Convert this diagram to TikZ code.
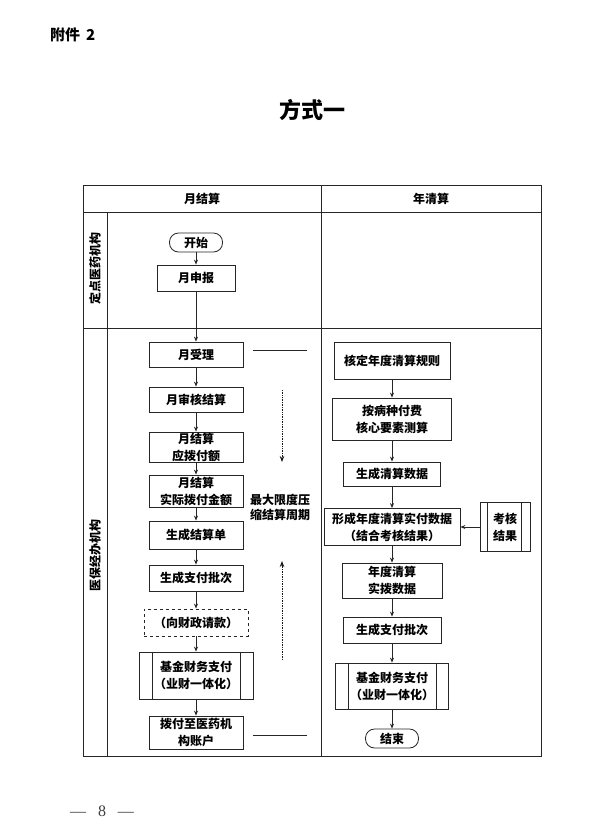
\documentclass[tikz,border=0pt]{standalone}
\usepackage{fontspec}
\setmainfont{Noto Sans CJK SC}
\newfontfamily\pgserif{Liberation Serif}
\usetikzlibrary{arrows.meta}
\begin{document}
\begin{tikzpicture}[x=1pt,y=-1pt,
  ln/.style={draw=black!85,line width=0.8pt},
  txt/.style={font=\bfseries\fontsize{12}{17}\selectfont,align=center,inner sep=0pt},
  box/.style={ln,txt,fill=white,minimum width=94pt},
  term/.style={box,rounded corners=9pt,minimum width=53pt,minimum height=19pt},
  arr/.style={ln,-{Stealth[length=5pt,width=4pt]}},
  dotarr/.style={draw=black!90,line width=0.8pt,dash pattern=on 1pt off 0.7pt,-{Stealth[length=6pt,width=4.5pt]}},
]
\useasboundingbox (0,0) rectangle (593,828);
\fill[white] (0,0) rectangle (593,828);

% page header
\node[anchor=west,font=\bfseries\fontsize{15}{15}\selectfont,inner sep=0pt] (att) at (50,35) {附件\hspace{6pt}2};
\node[font=\bfseries\fontsize{22}{22}\selectfont,inner sep=0pt] (title) at (312,110) {方式一};

% table
\draw[ln] (83,185) rectangle (541,756);
\draw[ln] (83,212) -- (541,212);
\draw[ln] (83,328) -- (541,328);
\draw[ln] (321,185) -- (321,756);
\draw[ln] (107,212) -- (107,756);
\node[txt] (h1) at (202,199) {月结算};
\node[txt] (h2) at (431,199) {年清算};
\node[txt,rotate=90] (lane1) at (95,268) {定点医药机构};
\node[txt,rotate=90] (lane2) at (95,555) {医保经办机构};

% left column
\node[term] (start) at (196,242.5) {开始};
\node[box,minimum width=78pt,minimum height=26pt] (sb) at (196,278) {月申报};
\node[box,minimum height=25pt] (sl) at (196,354.5) {月受理};
\node[box,minimum height=25pt] (sh) at (196,399.5) {月审核结算};
\node[box,minimum height=30pt] (yb) at (196,447) {月结算\\应拨付额};
\node[box,minimum height=32pt] (sj) at (196,491) {月结算\\实际拨付金额};
\node[box,minimum height=28pt] (jsd) at (196,535) {生成结算单};
\node[box,minimum height=26pt] (pc1) at (196,578) {生成支付批次};
\node[box,dashed,minimum width=104pt,minimum height=27pt] (qk) at (196,622.5) {（向财政请款）};
\node[box,minimum width=114pt,minimum height=47pt] (zf1) at (196,675.5) {基金财务支付\\（业财一体化）};
\draw[ln] ([xshift=14pt]zf1.north west) -- ([xshift=14pt]zf1.south west);
\draw[ln] ([xshift=-13pt]zf1.north east) -- ([xshift=-13pt]zf1.south east);
\node[box,minimum height=33pt] (bf) at (196,732.5) {拨付至医药机\\构账户};

\draw[arr] (start) -- (sb);
\draw[arr] (sb) -- (sl);
\draw[arr] (sl) -- (sh);
\draw[arr] (sh) -- (yb);
\draw[arr] (yb) -- (sj);
\draw[arr] (sj) -- (jsd);
\draw[arr] (jsd) -- (pc1);
\draw[arr] (pc1) -- (qk);
\draw[arr] (qk) -- (zf1);
\draw[arr] (zf1) -- (bf);

% middle annotation
\coordinate (t1) at (253,350);
\coordinate (t2) at (307,350);
\coordinate (b1) at (253,735);
\coordinate (b2) at (307,735);
\draw[ln] (t1) -- (t2);
\draw[ln] (b1) -- (b2);
\coordinate (da) at (282,390);
\coordinate (db) at (282,462);
\coordinate (ua) at (282,660);
\coordinate (ub) at (282,561);
\draw[dotarr] (da) -- (db);
\draw[dotarr] (ua) -- (ub);
\node[txt,font=\bfseries\fontsize{12}{15}\selectfont] (lbl) at (280,507) {最大限度压\\缩结算周期};

% right column
\node[box,minimum width=116pt,minimum height=37pt] (gz) at (392,360.5) {核定年度清算规则};
\node[box,minimum width=119pt,minimum height=42pt] (cs) at (392,419) {按病种付费\\核心要素测算};
\node[box,minimum width=97pt,minimum height=24pt] (qs) at (392,474) {生成清算数据};
\node[box,minimum width=136pt,minimum height=37pt] (sf) at (392,527) {形成年度清算实付数据\\（结合考核结果）};
\node[box,minimum width=50pt,minimum height=49pt] (kh) at (505,527) {考核\\结果};
\draw[ln] ([xshift=8pt]kh.north west) -- ([xshift=8pt]kh.south west);
\draw[ln] ([xshift=-9pt]kh.north east) -- ([xshift=-9pt]kh.south east);
\node[box,minimum width=100pt,minimum height=35pt] (sb2) at (392,580.5) {年度清算\\实拨数据};
\node[box,minimum width=98pt,minimum height=26pt] (pc2) at (392,630) {生成支付批次};
\node[box,minimum width=113pt,minimum height=46pt] (zf2) at (392,686) {基金财务支付\\（业财一体化）};
\draw[ln] ([xshift=13pt]zf2.north west) -- ([xshift=13pt]zf2.south west);
\draw[ln] ([xshift=-13pt]zf2.north east) -- ([xshift=-13pt]zf2.south east);
\node[term] (end) at (392,738.5) {结束};

\draw[arr] (gz) -- (cs);
\draw[arr] (cs) -- (qs);
\draw[arr] (qs) -- (sf);
\draw[arr] (kh) -- (sf);
\draw[arr] (sf) -- (sb2);
\draw[arr] (sb2) -- (pc2);
\draw[arr] (pc2) -- (zf2);
\draw[arr] (zf2) -- (end);

% page number
\node[font=\pgserif\fontsize{16}{16}\selectfont,text=black!75,inner sep=0pt] (pg) at (102,811) {—\hspace{12pt}8\hspace{12pt}—};
\end{tikzpicture}
\end{document}
